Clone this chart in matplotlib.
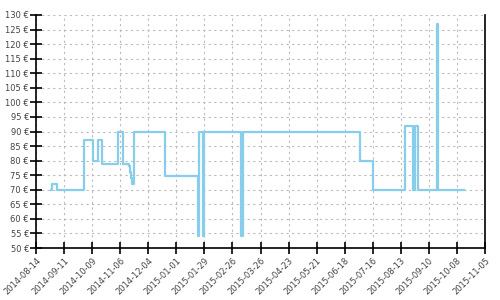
import pandas as pd, numpy as np
import matplotlib; matplotlib.use('Agg')
import matplotlib.pyplot as plt
import matplotlib.dates as mdates

# price history (step changes)
dates = ['2014-08-29', '2014-08-30', '2014-09-04', '2014-10-01', '2014-10-10', '2014-10-15',
         '2014-10-19', '2014-11-04', '2014-11-09', '2014-11-15', '2014-11-16', '2014-11-17',
         '2014-11-18', '2014-11-20', '2014-12-21', '2015-01-23', '2015-01-24', '2015-01-28',
         '2015-01-29', '2015-03-07', '2015-03-09', '2015-07-03', '2015-07-16', '2015-08-17',
         '2015-08-25', '2015-08-27', '2015-08-30', '2015-09-18', '2015-09-19', '2015-10-15']
prices = [70, 72, 70, 87, 80, 87,
          79, 90, 79, 78, 76, 74,
          72, 90, 74.7, 54, 90, 54,
          90, 54, 90, 80, 70, 92,
          70, 92, 70, 127, 70, 70]

tick_start, tick_end = '2014-08-14', '2015-11-05'
y_ticks = list(range(50, 131, 5))

plt.rcParams.update({'font.family': 'DejaVu Sans', 'font.size': 6})

fig = plt.figure(figsize=(5, 3), dpi=100)
ax = fig.add_axes([0.072, 0.1733, 0.898, 0.7767])
x = pd.to_datetime(dates)
ax.step(x, prices, where='post', color='#87ceeb', lw=1.6, zorder=3)

xt = pd.date_range(tick_start, tick_end, freq='28D')
ax.set_xticks(xt)
ax.set_xticklabels([d.strftime('%Y-%m-%d') for d in xt], rotation=45, ha='right',
                   rotation_mode='anchor', color='#444444')
ax.set_xlim(pd.Timestamp(tick_start), pd.Timestamp(tick_end))
ax.set_ylim(50, 130)
ax.set_yticks(y_ticks)
ax.set_yticklabels([f'{v} €' for v in y_ticks], color='#444444')

ax.grid(True, ls=(0, (2, 3)), color='#bbbbbb', lw=0.8)
ax.set_axisbelow(True)
ax.spines['top'].set_visible(False)
for s in ['left', 'bottom', 'right']:
    ax.spines[s].set_linewidth(1.2)
ax.tick_params(axis='both', direction='inout', length=8, width=1.2, labelsize=6)
ax.tick_params(axis='y', pad=1)
ax.tick_params(axis='x', pad=2)

fig.savefig('out.png', dpi=100, facecolor='white')
